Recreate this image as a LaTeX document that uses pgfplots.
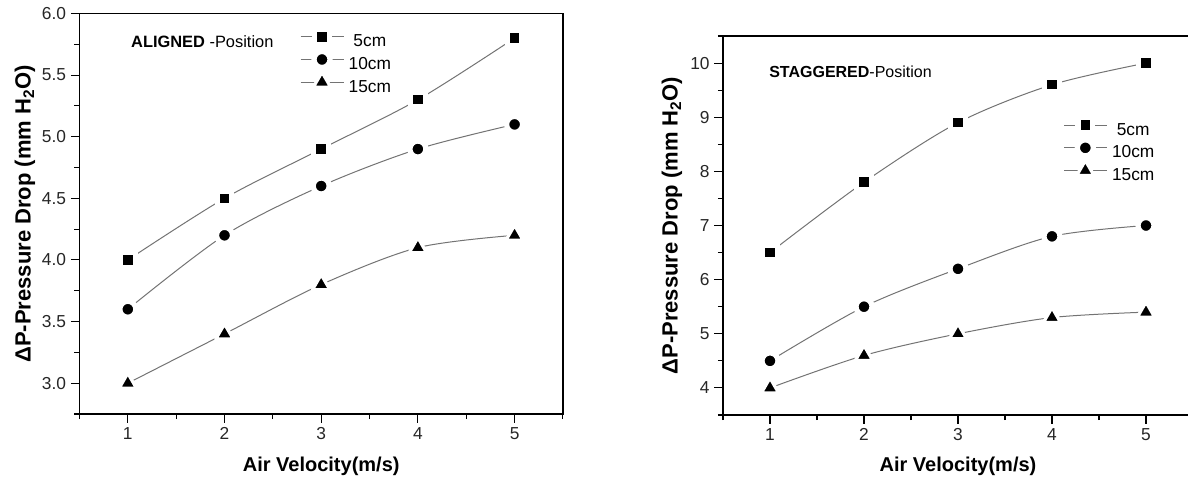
\documentclass[border=0pt]{standalone}
\usepackage{fontspec}
\setmainfont{Liberation Sans}
\usepackage{pgfplots}
\pgfplotsset{compat=1.18}
\definecolor{linegray}{gray}{0.45}

\pgfplotsset{
  common/.style={
    scale only axis, anchor=south west,
    xmin=0.5, xmax=5.5,
    xtick={1,2,3,4,5},
    minor xtick={0.5,1.5,2.5,3.5,4.5,5.5},
    tick align=outside,
    xtick pos=left, ytick pos=left,
    major tick length=6.5pt, minor tick length=3.8pt,
    every tick/.style={black, line width=0.8pt},
    axis line style={line width=0.9pt},
    tick label style={font=\fontsize{13}{15}\selectfont, text=black!85},
    /pgf/number format/assume math mode=true,
    xlabel style={font=\bfseries\fontsize{15}{18}\selectfont, anchor=center},
    ylabel style={font=\bfseries\fontsize{16.5}{19}\selectfont, anchor=center},
    xlabel={Air Velocity(m/s)},
    ylabel={ΔP-Pressure Drop (mm H\textsubscript{2}O)},
    legend style={draw=none, fill=none, anchor=north west, inner sep=0pt,
      font=\fontsize{13}{15}\selectfont,
      nodes={inner xsep=4pt, inner ysep=0pt, text height=11.5pt, text depth=4.5pt}},
    legend cell align=left,
    legend image code/.code={%
      \begin{pgfinterruptboundingbox}
      \draw[mark repeat=2,mark phase=2,#1] plot coordinates {(0pt,4pt) (16pt,4pt) (32pt,4pt)};
      \end{pgfinterruptboundingbox}
      \path[draw=none, fill=none] (0pt,0pt) rectangle (32pt,9pt);},
  },
  s5/.style={linegray, line width=0.75pt, smooth, mark=square*, mark size=5.5pt,
    mark options={draw=white, fill=black, line width=3.9pt, solid}},
  s10/.style={linegray, line width=0.75pt, smooth, mark=*, mark size=6.0pt,
    mark options={draw=white, fill=black, line width=3.9pt, solid}},
  s15/.style={linegray, line width=0.75pt, smooth, mark=triangle*, mark size=7.5pt,
    mark options={draw=white, fill=black, line width=2.4pt, line join=round, solid}},
}

\begin{document}
\begin{tikzpicture}
\useasboundingbox (0,0) rectangle (891pt,360pt);
\clip (0,0) rectangle (891pt,360pt);

% ---------- ALIGNED ----------
\begin{axis}[common,
  at={(59.6pt,49.5pt)}, width=362.6pt, height=300.4pt,
  ymin=2.75, ymax=6.0,
  ytick={3.0,3.5,4.0,4.5,5.0,5.5,6.0},
  minor ytick={2.75,3.25,3.75,4.25,4.75,5.25,5.75},
  yticklabel style={/pgf/number format/fixed, /pgf/number format/fixed zerofill, /pgf/number format/precision=1},
  xlabel style={at={(axis description cs:0.5,-0.1298)}},
  ylabel style={at={(axis description cs:-0.1127,0.5)}},
  legend style={at={(axis description cs:0.457,0.959)}},
]
\addplot[s5] coordinates {(1,4.0) (2,4.5) (3,4.9) (4,5.3) (5,5.8)};
\addlegendentry{\ 5cm}
\addplot[s10] coordinates {(1,3.6) (2,4.2) (3,4.6) (4,4.9) (5,5.1)};
\addlegendentry{10cm}
\addplot[s15] coordinates {(1,3.0) (2,3.4) (3,3.8) (4,4.1) (5,4.2)};
\addlegendentry{15cm}
\node[anchor=west, font=\fontsize{12.3}{14}\selectfont, inner sep=0pt] at (axis description cs:0.1065,0.929) {\textbf{ALIGNED} -Position};
\end{axis}

% ---------- STAGGERED ----------
\begin{axis}[common,
  at={(542.25pt,48.75pt)}, width=352.5pt, height=284.25pt,
  ymin=3.5, ymax=10.5,
  ytick={4,5,6,7,8,9,10},
  minor ytick={3.5,4.5,5.5,6.5,7.5,8.5,9.5,10.5},
  xlabel style={at={(axis description cs:0.5,-0.1346)}},
  ylabel style={at={(axis description cs:-0.1085,0.5)}},
  legend style={at={(axis description cs:0.725,0.783)}},
]
\addplot[s5] coordinates {(1,6.5) (2,7.8) (3,8.9) (4,9.6) (5,10.0)};
\addlegendentry{\ 5cm}
\addplot[s10] coordinates {(1,4.5) (2,5.5) (3,6.2) (4,6.8) (5,7.0)};
\addlegendentry{10cm}
\addplot[s15] coordinates {(1,4.0) (2,4.6) (3,5.0) (4,5.3) (5,5.4)};
\addlegendentry{15cm}
\node[anchor=west, font=\fontsize{12}{14}\selectfont, inner sep=0pt] at (axis description cs:0.0979,0.905) {\textbf{STAGGERED}-Position};
\end{axis}
\end{tikzpicture}
\end{document}
